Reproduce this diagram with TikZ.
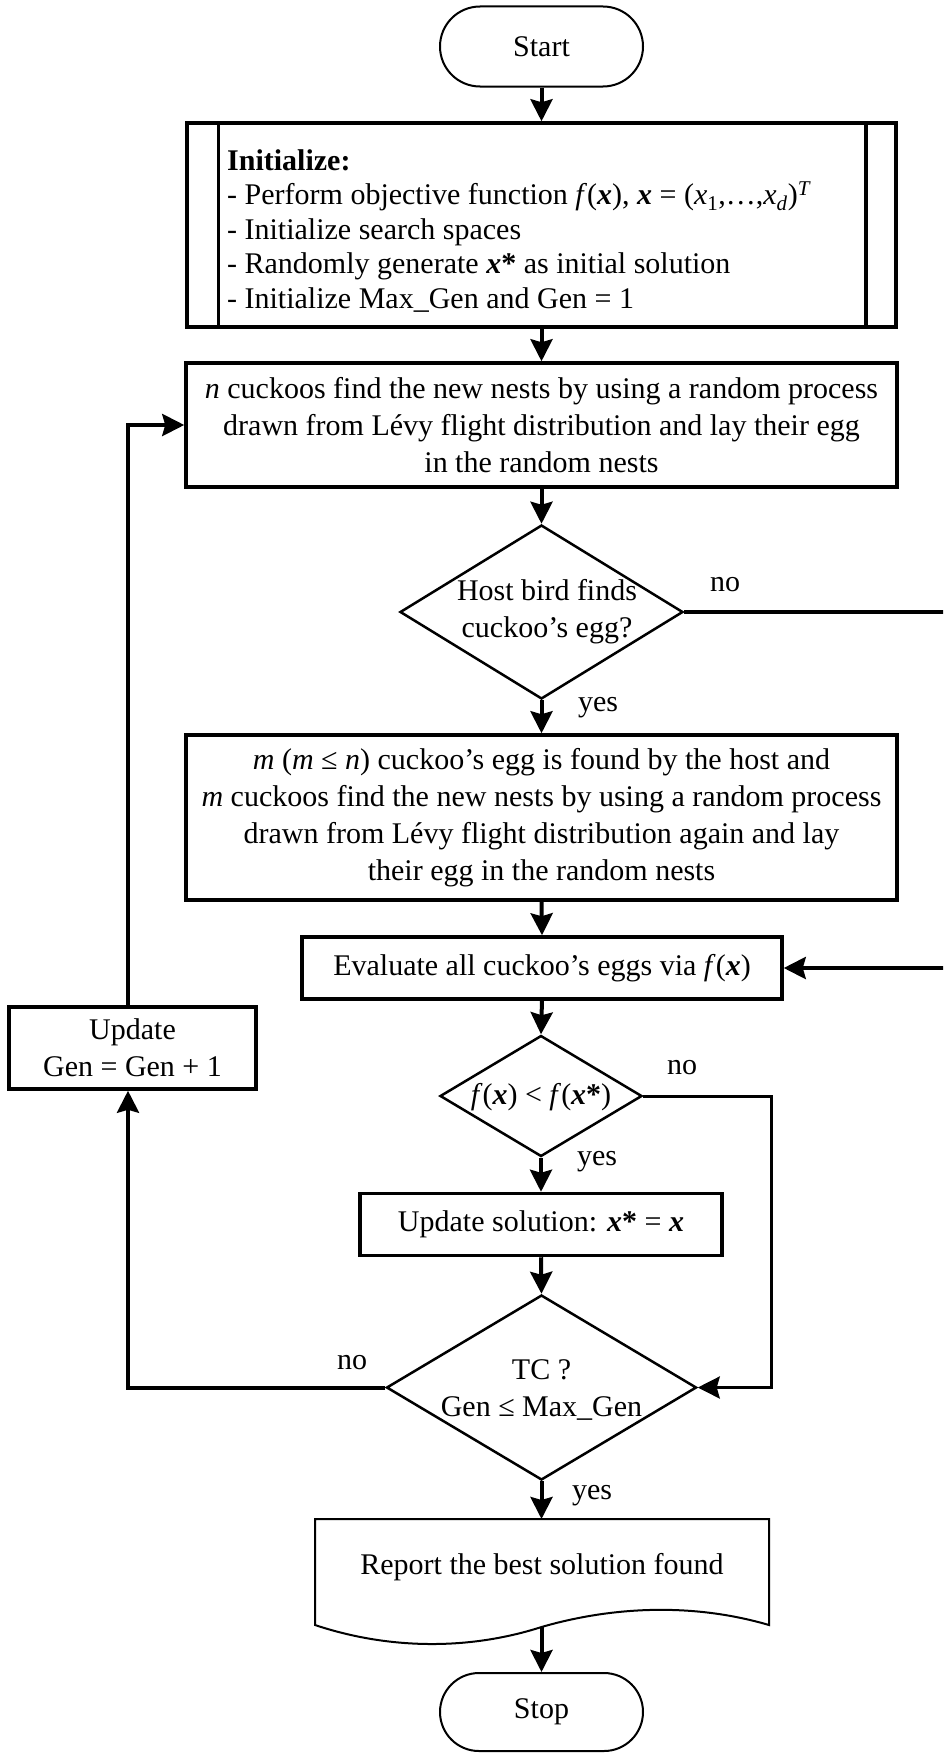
\documentclass[tikz,border=0pt]{standalone}
\usepackage{fontspec}
\setmainfont{Liberation Serif}
\usetikzlibrary{shapes.geometric,shapes.misc,arrows.meta}
\begin{document}
\begin{tikzpicture}[x=1pt,y=-1pt,
  every node/.style={font=\fontsize{30}{37}\selectfont, inner sep=0pt},
  box/.style={draw, line width=3.5pt, rectangle},
  term/.style={draw, line width=2pt, rounded rectangle, minimum width=203pt, minimum height=80pt},
  dia/.style={draw, line width=2.5pt, diamond},
  conn/.style={line width=4pt, -{Stealth[length=22pt,width=22pt,inset=3pt]}}]
\useasboundingbox (0,0) rectangle (943,1753);
\clip (0,0) rectangle (943,1753);

% nodes
\node[term] (start) at (541.5,46.5) {Start};

\node[box, minimum width=709pt, minimum height=204pt] (init) at (541.5,225) {};
\draw[line width=3.5pt] ([xshift=33pt]init.north west) -- ([xshift=33pt]init.south west);
\draw[line width=3.5pt] ([xshift=-32pt]init.north east) -- ([xshift=-32pt]init.south east);
\node[anchor=west, align=left, font=\fontsize{30}{34.5}\selectfont] (inittxt) at (227,231)
 {\textbf{Initialize:}\\
  - Perform objective function \textit{f}(\textbf{\textit{x}}), \textbf{\textit{x}} = (\textit{x}\textsubscript{1},…,\textit{x}\textsubscript{\textit{d}})\textsuperscript{\textit{T}}\\
  - Initialize search spaces\\
  - Randomly generate \textbf{\textit{x}*} as initial solution\\
  - Initialize Max\_Gen and Gen = 1};

\node[box, minimum width=711pt, minimum height=124pt, align=center] (ncuck) at (541.5,425)
 {\textit{n} cuckoos find the new nests by using a random process\\
  drawn from Lévy flight distribution and lay their egg\\
  in the random nests};

\node[dia, minimum width=283pt, minimum height=174pt] (host) at (541.5,612) {};
\node[align=center] (hosttxt) at (547,612) {Host bird finds\\cuckoo’s egg?};

\node[box, minimum width=711pt, minimum height=165pt, align=center] (mbox) at (541.5,817.5)
 {\textit{m} (\textit{m} ≤ \textit{n}) cuckoo’s egg is found by the host and\\
  \textit{m} cuckoos find the new nests by using a random process\\
  drawn from Lévy flight distribution again and lay\\
  their egg in the random nests};

\node[box, minimum width=480pt, minimum height=62pt] (eval) at (542,968)
 {Evaluate all cuckoo’s eggs via \textit{f}(\textbf{\textit{x}})};

\node[box, minimum width=247pt, minimum height=82pt, align=center] (updgen) at (132.5,1048)
 {Update\\Gen = Gen + 1};

\node[dia, minimum width=202pt, minimum height=121pt] (fdia) at (541,1096) {};
\node (ftxt) at (541,1097) {\textit{f}(\textbf{\textit{x}}) < \textit{f}(\textbf{\textit{x}*})};

\node[box, minimum width=362pt, minimum height=62pt] (updsol) at (541,1224.5)
 {Update solution: \textbf{\textit{x}*} = \textbf{\textit{x}}};

\node[dia, minimum width=310pt, minimum height=185pt] (tc) at (541.5,1387.5) {};
\node[align=center] (tctxt) at (541.5,1390) {TC ?\\Gen ≤ Max\_Gen};

\coordinate (doctop) at (541.5,1519);
\coordinate (docbot) at (541.5,1627);
\draw[line width=2pt] (315,1625) -- (315,1519) -- (769,1519) -- (769,1625)
  .. controls (694,1603) and (614,1606) .. (docbot)
  .. controls (470,1650) and (390,1650) .. (315,1625) -- cycle;
\node (report) at (542,1567) {Report the best solution found};

\node[term, minimum height=78pt] (stop) at (541.5,1712) {Stop};

% connectors
\draw[conn] (start.south) -- (init.north);
\draw[conn] (init.south) -- (ncuck.north);
\draw[conn] (ncuck.south) -- (host.north);

\coordinate (rtop) at (948,612);
\coordinate (rbot) at (948,968);
\draw[conn] (host.east) -- (rtop) -- (rbot) -- (eval.east);
\node (no1) at (725,585) {no};

\draw[conn] (host.south) -- (mbox.north);
\node (yes1) at (598,708) {yes};

\draw[conn] (mbox.south) -- (eval.north);
\draw[conn] (eval.south) -- (fdia.north);

\coordinate (fr) at (771,1096);
\draw[conn, line width=3pt] (fdia.east) -- (fr) |- (tc.east);
\node (no2) at (682,1068) {no};

\draw[conn] (fdia.south) -- (updsol.north);
\node (yes2) at (597,1162) {yes};

\draw[conn] (updsol.south) -- (tc.north);

\coordinate (lb) at (128,1387.5);
\draw[conn] (tc.west) -- (lb) -- (lb |- updgen.south);
\node (no3) at (352,1363) {no};

\draw[conn] (updgen.north -| lb) -- (lb |- ncuck.west) -- (ncuck.west);

\draw[conn] (tc.south) -- (doctop);
\node (yes3) at (592,1496) {yes};

\draw[conn] (docbot) -- (stop.north);
\end{tikzpicture}
\end{document}
